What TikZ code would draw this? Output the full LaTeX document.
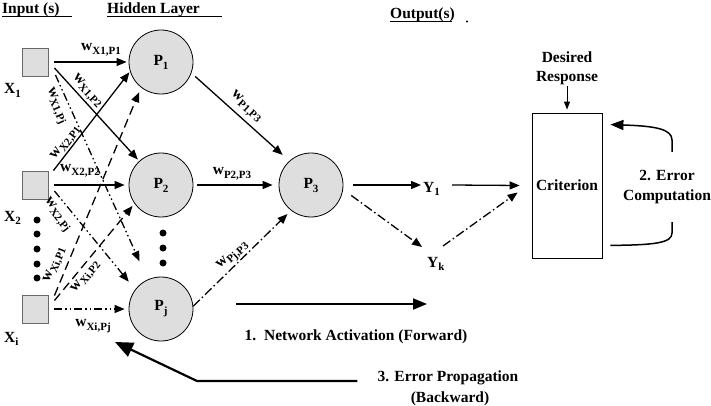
\documentclass[tikz,border=0pt]{standalone}
\usepackage{fontspec}
\setmainfont{Liberation Serif}
\usetikzlibrary{arrows.meta,calc}
\definecolor{nodefill}{RGB}{222,222,222}
\definecolor{boxline}{RGB}{105,105,105}
\newcommand\sbx[2][-3.5pt]{\raisebox{#1}{\fontsize{11}{12}\selectfont #2}}
\newcommand\wlab[1]{w\sbx{#1}}
\begin{document}
\begin{tikzpicture}[x=1pt,y=-1pt,
  font=\fontsize{15.5}{18}\selectfont\bfseries,
  conn/.style={line width=1.3pt,-{Triangle[length=10pt,width=8pt]}},
  dsh/.style={conn,dash pattern=on 9pt off 5pt},
  ddot/.style={conn,dash pattern=on 8pt off 3pt on 1.5pt off 3pt on 1.5pt off 3pt},
  dd/.style={conn,dash pattern=on 9pt off 3pt on 1.5pt off 3pt},
  inbox/.style={draw=boxline,fill=nodefill,line width=0.9pt,minimum width=26pt,minimum height=28pt,inner sep=0pt},
  neuron/.style={circle,draw,fill=nodefill,line width=0.8pt,minimum size=64pt,inner sep=0pt},
  wl/.style={inner sep=0pt},
  lab/.style={inner sep=0pt},
  bigdot/.style={circle,fill,inner sep=0pt,minimum size=7pt}
]
\useasboundingbox (0,0) rectangle (711,406);

% titles
\node[lab,anchor=base west] (tIn) at (2,14) {Input (s)};
\draw[line width=1.1pt] ([yshift=-2.5pt]tIn.base west) -- ++(70,0);
\node[lab,anchor=base west] (tHid) at (107,14) {Hidden Layer};
\draw[line width=1.1pt] ([yshift=-2.5pt]tHid.base west) -- ++(115,0);
\node[lab,anchor=base west] (tOut) at (390,19) {Output(s)};
\draw[line width=1.1pt] ([yshift=-2.5pt]tOut.base west) -- ++(62,0);
\fill ($(tOut.base west)+(77,2.5)$) circle (1.1pt);

% inputs
\node[inbox] (X1) at (35,62) {};
\node[inbox] (X2) at (35,185) {};
\node[inbox] (Xi) at (35,309) {};
\node[lab,anchor=base west] (lX1) at (4,94) {X\sbx{1}};
\node[lab,anchor=base west] (lX2) at (4,221) {X\sbx{2}};
\node[lab,anchor=base west] (lXi) at (4,342) {X\sbx{i}};
\foreach \y [count=\i] in {220,234,249,264,278} \node[bigdot] (ld\i) at (37,\y) {};

% hidden
\node[neuron] (P1) at (161,62) {P\sbx[-4pt]{1}};
\node[neuron] (P2) at (161,185) {P\sbx[-4pt]{2}};
\node[neuron] (Pj) at (161,309) {P\sbx[-4pt]{j}};
\foreach \y [count=\i] in {233,248,263} \node[bigdot] (md\i) at (163,\y) {};
\node[neuron] (P3) at (311,185) {P\sbx[-4pt]{3}};

% outputs
\node[lab,anchor=base west] (Y1) at (423,192) {Y\sbx{1}};
\node[lab,anchor=base west] (Yk) at (427,267) {Y\sbx{k}};
\node[draw,line width=0.8pt,minimum width=70pt,minimum height=145pt,inner sep=0pt] (Crit) at (567,185.5) {Criterion};
\node[lab,align=center,anchor=north,font=\fontsize{15.5}{19}\selectfont\bfseries] (Des) at (567,51.5) {Desired\\Response};
\node[lab,align=center,anchor=north,font=\fontsize{15.5}{19.5}\selectfont\bfseries] (EC) at (667,170.5) {2. Error\\Computation};

% input -> hidden
\draw[conn] ([xshift=6pt]X1.east) -- ([xshift=-2pt]P1.west);
\draw[conn,shorten >=2pt] ([shift={(6,6)}]X1.east) -- (P2);
\draw[ddot,shorten >=20pt] ([shift={(7,13)}]X1.east) -- (Pj);
\draw[conn,shorten >=1pt] ([shift={(5,0)}]X2.north east) -- (P1.197);
\draw[conn] ([xshift=6pt]X2.east) -- ([xshift=-4pt]P2.west);
\draw[ddot,shorten >=10pt] ([shift={(6,6)}]X2.east) -- (Pj.143);
\draw[dsh,shorten >=5pt] ([shift={(6,1)}]Xi.north east) -- (P1.232);
\draw[dsh,shorten >=3pt] ([shift={(6,6)}]Xi.north east) -- (P2.215);
\draw[ddot] ([xshift=6pt]Xi.east) -- ([xshift=-4pt]Pj.west);

% hidden -> P3
\draw[conn,shorten <=5pt,shorten >=9pt] (P1.-20) -- (P3.132);
\draw[conn] ([xshift=4pt]P2.east) -- ([xshift=-6pt]P3.west);
\draw[dd,shorten >=5pt] (Pj.5) -- (P3.232);

% P3 -> outputs -> criterion
\draw[conn] ([xshift=10pt]P3.east) -- ([shift={(-2,-7)}]Y1.base west);
\draw[dd,shorten <=10pt] (P3.-8) -- ([shift={(-5,-20)}]Yk.base west);
\draw[conn] ([shift={(29,-7)}]Y1.base west) -- ([xshift=-12pt]Crit.west);
\draw[dd] ([shift={(16,-21)}]Yk.base west) -- ([shift={(-14,7)}]Crit.west);
\draw[line width=1pt,-{Triangle[length=8pt,width=6pt]}] ([yshift=-1pt]Des.south) -- ([yshift=3pt]Crit.north);

% error computation loop
\coordinate (ecA) at (672,152);
\coordinate (ecB) at (672,222);
\draw[line width=1.5pt,-{Triangle[length=13pt,width=10pt]}] (ecA) -- (672,140) .. controls (672,129) and (655,126) .. ([shift={(8,12)}]Crit.north east);
\draw[line width=1.5pt] (ecB) -- (672,233) .. controls (672,243) and (655,245) .. ([shift={(8,-13)}]Crit.south east);

% weights
\node[wl] (w11) at (101,50) {\wlab{X1,P1}};
\node[wl,rotate=-47] (w12) at (87,91) {\wlab{X1,P2}};
\node[wl,rotate=-66] (w1j) at (56,106) {\wlab{X1,Pj}};
\node[wl,rotate=53] (w21) at (66,143) {\wlab{X2,P1}};
\node[wl] (w22) at (80,171) {\wlab{X2,P2}};
\node[wl,rotate=-52] (w2j) at (57,215) {\wlab{X2,Pj}};
\node[wl,rotate=68] (wi1) at (55,265) {\wlab{Xi,P1}};
\node[wl,rotate=51] (wi2) at (86,277) {\wlab{Xi,P2}};
\node[wl] (wij) at (93,326) {\wlab{Xi,Pj}};
\node[wl,rotate=-42] (w13) at (246,107) {\wlab{P1,P3}};
\node[wl] (w23) at (232,174) {\wlab{P2,P3}};
\node[wl,rotate=42] (wj3) at (233,256) {\wlab{Pj,P3}};

% forward / backward
\coordinate (fa1) at (236,304);
\coordinate (fa2) at (427,304);
\draw[line width=2pt,-{Triangle[length=14pt,width=11pt]}] (fa1) -- (fa2);
\node[lab,anchor=base] (tFwd) at (356,340) {1.\ \ Network Activation (Forward)};
\node[lab,anchor=base] (tBk1) at (448,381) {3. Error Propagation};
\node[lab,anchor=base] (tBk2) at (450,402) {(Backward)};
\coordinate (bkturn) at (197,381);
\draw[line width=2.2pt,-{Triangle[length=18pt,width=15pt]}] ([xshift=-20pt]tBk1.base west) -- (bkturn) -- ([shift={(-46,33)}]Pj.center);
\end{tikzpicture}
\end{document}
